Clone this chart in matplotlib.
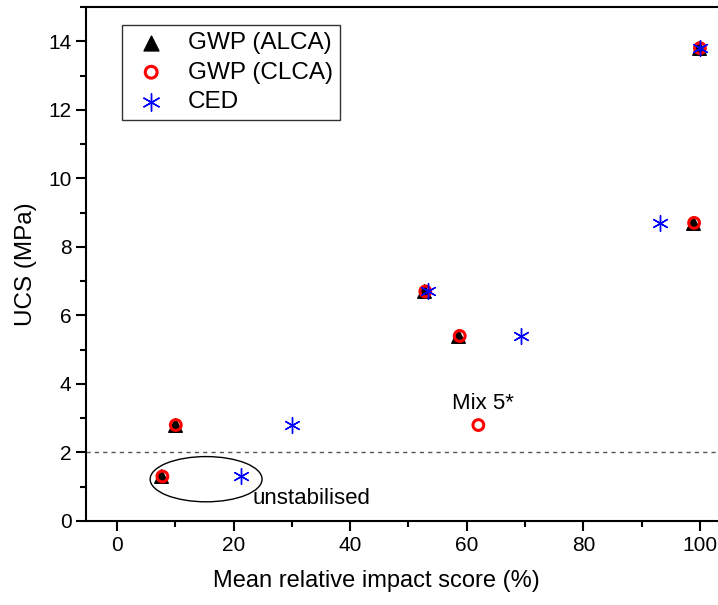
import matplotlib
matplotlib.use("Agg")
import matplotlib.pyplot as plt
from matplotlib.patches import Ellipse
from matplotlib.ticker import MultipleLocator

plt.rcParams["font.family"] = ["Liberation Sans", "DejaVu Sans"]

# Data
alca_x = [7.5, 9.9, 52.6, 58.5, 98.8, 99.8]
alca_y = [1.3, 2.8, 6.7, 5.4, 8.7, 13.8]
clca_x = [7.8, 10.1, 52.9, 58.8, 99.0, 100.0, 62.0]
clca_y = [1.3, 2.8, 6.7, 5.4, 8.7, 13.8, 2.8]
ced_x = [21.3, 30.1, 53.4, 69.3, 93.2, 100.0]
ced_y = [1.3, 2.8, 6.7, 5.4, 8.7, 13.8]

fig = plt.figure(figsize=(7.18, 6.05), dpi=100)
ax = fig.add_axes([86 / 718, 1 - 521 / 605, 1 - 86 / 718, (521 - 7) / 605])

ax.scatter(alca_x, alca_y, marker="^", s=95, color="black", label="GWP (ALCA)", zorder=3)
ax.scatter(clca_x, clca_y, marker="o", s=60, facecolors="none", edgecolors="red",
           linewidths=2.2, label="GWP (CLCA)", zorder=4)
ax.scatter(ced_x, ced_y, marker=(6, 2, 0), s=130, color="blue", linewidths=1,
           label="CED", zorder=5)

# threshold line and annotations
ax.axhline(2, color="#555555", linestyle=(0, (3, 3)), linewidth=1, zorder=1)
ax.add_patch(Ellipse((15.3, 1.22), 19.2, 1.32, fill=False, edgecolor="black", linewidth=1))
ax.text(23.2, 0.67, "unstabilised", fontsize=16, ha="left", va="center")
ax.text(62.8, 3.42, "Mix 5*", fontsize=16, ha="center", va="center")

ax.set_xlim(-5.3, 103.1)
ax.set_ylim(0, 15)
ax.xaxis.set_major_locator(MultipleLocator(20))
ax.xaxis.set_minor_locator(MultipleLocator(10))
ax.yaxis.set_major_locator(MultipleLocator(2))
ax.yaxis.set_minor_locator(MultipleLocator(1))
ax.tick_params(which="major", direction="out", length=7, width=1.5, labelsize=15)
ax.tick_params(which="minor", direction="out", length=4, width=1.5)
for side in ["left", "bottom", "top"]:
    ax.spines[side].set_linewidth(1.5)
ax.spines["right"].set_visible(False)

ax.set_xlabel("Mean relative impact score (%)", fontsize=17)
ax.xaxis.set_label_coords(0.46, -0.095)
ax.set_ylabel("UCS (MPa)", fontsize=17.5, labelpad=8)

leg = ax.legend(loc="upper left", bbox_to_anchor=(0.057, 0.965), borderaxespad=0,
                fontsize=17.5, frameon=True, fancybox=False, edgecolor="black",
                handletextpad=0.6, borderpad=0.3, labelspacing=0.3, handlelength=1.8,
                markerscale=1.1)
leg.get_frame().set_linewidth(1)

fig.savefig("out.png", dpi=100)
